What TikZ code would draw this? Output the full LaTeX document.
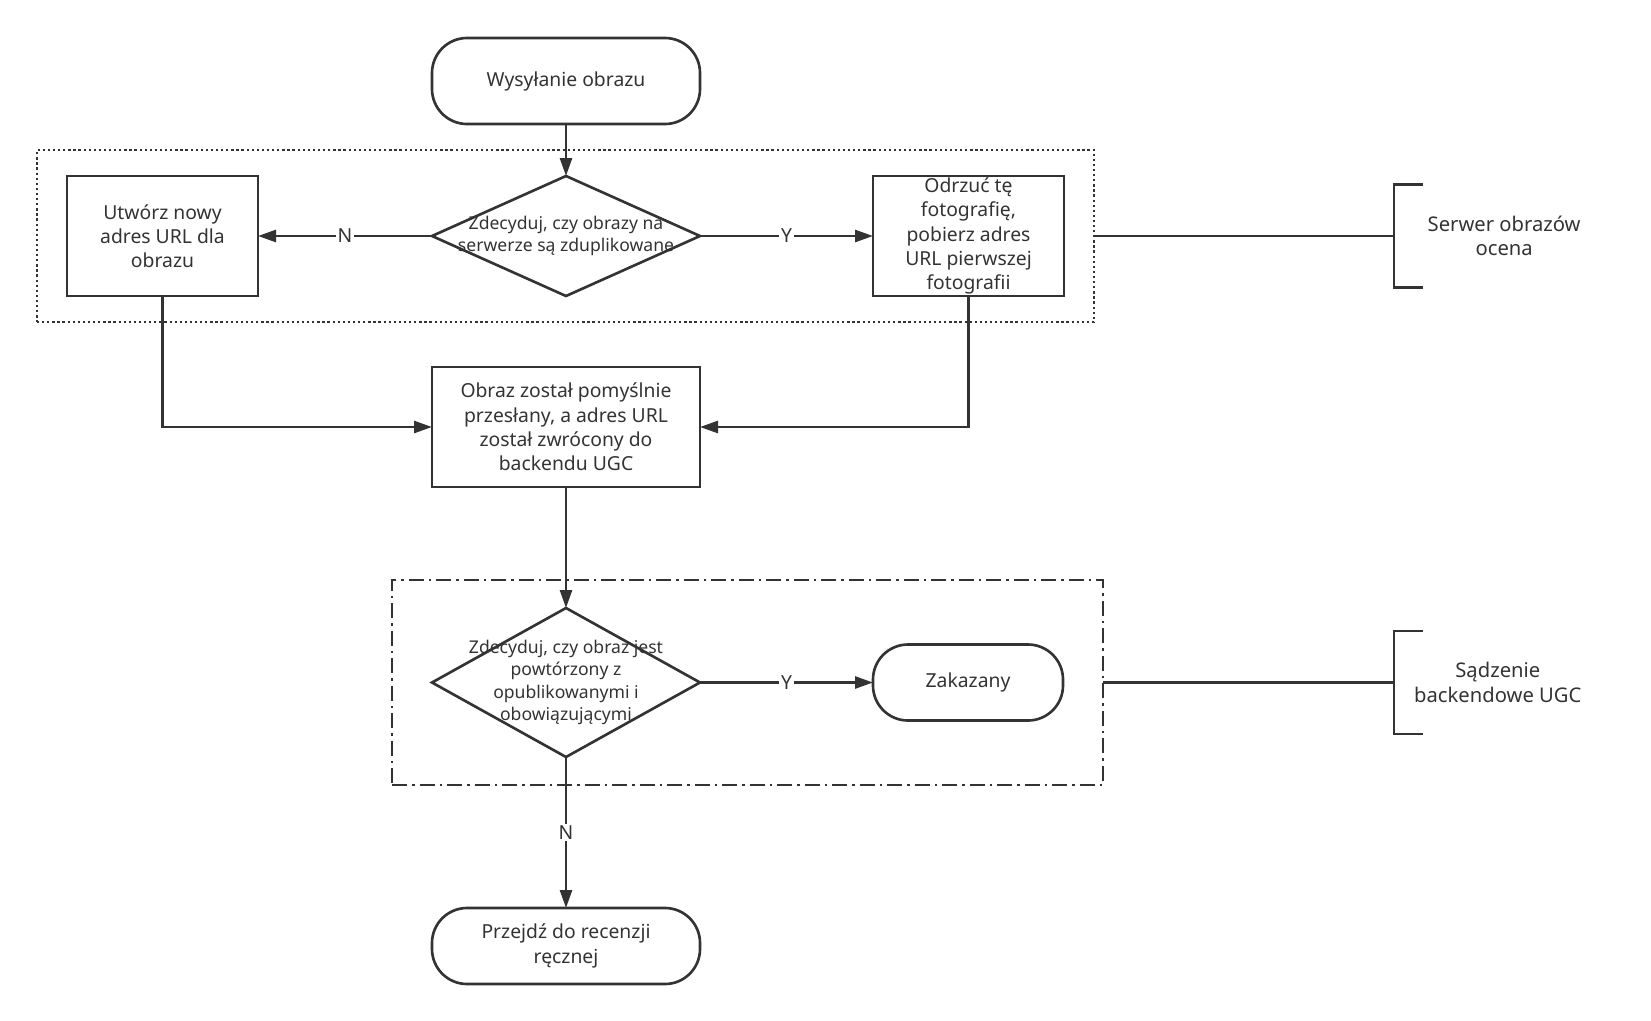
\documentclass[tikz,border=0pt]{standalone}
\usepackage{fontspec}
\setmainfont{Noto Sans}
\usepackage{xcolor}
\usetikzlibrary{shapes.geometric, arrows.meta, positioning, fit, calc}

\definecolor{ink}{HTML}{333333}

\begin{document}
\begin{tikzpicture}[
  node distance=1cm,
  every node/.style={font=\fontsize{11}{13.8}\selectfont, text=ink},
  terminal/.style={rectangle, rounded corners=0.7cm, draw=ink, line width=1.5pt, minimum width=5.36cm, minimum height=1.52cm, align=center, inner sep=0pt, outer sep=0pt},
  process/.style={rectangle, draw=ink, line width=1.5pt, minimum width=3.82cm, minimum height=2.4cm, align=center, inner sep=0pt, outer sep=0pt},
  decision/.style={diamond, draw=ink, line width=1.5pt, minimum width=5.36cm, minimum height=2.4cm, inner sep=0pt, outer sep=0pt},
  dectext/.style={align=center, font=\fontsize{10}{12.8}\selectfont},
  arrow/.style={-{Triangle[length=0.36cm, width=0.24cm]}, line width=1.5pt, draw=ink},
  link/.style={line width=1.5pt, draw=ink},
  answer/.style={midway, fill=white, inner sep=1pt},
  dotgroup/.style={rectangle, draw=ink, line width=1.3pt, dash pattern=on 1.3pt off 1.6pt, inner xsep=0.6cm, inner ysep=0.52cm, outer sep=0pt},
  dashdotgroup/.style={rectangle, draw=ink, line width=1.3pt, dash pattern=on 0.3cm off 0.1cm on 0.05cm off 0.1cm, inner xsep=0.8cm, inner ysep=0.56cm, outer sep=0pt},
  note/.style={align=center, font=\fontsize{11.5}{14}\selectfont},
]
\useasboundingbox (0,0) rectangle (33.02,-20.4);

% first check on the image server
\node[terminal, minimum height=1.72cm] (start) at (11.32,-1.62) {Wysyłanie obrazu};
\node[decision, below=1.04cm of start, label={[dectext]center:Zdecyduj, czy obrazy na\\serwerze są zduplikowane}] (dup1) {};
\node[process, left=3.48cm of dup1] (newurl) {Utwórz nowy\\adres URL dla\\obrazu};
\node[process, right=3.46cm of dup1] (reject) {Odrzuć tę\\fotografię,\\pobierz adres\\URL pierwszej\\fotografii};

% result returned to backend
\node[process, minimum width=5.36cm, below=1.42cm of dup1] (uploaded) {Obraz został pomyślnie\\przesłany, a adres URL\\został zwrócony do\\backendu UGC};

% second check in the UGC backend
\node[decision, minimum height=2.98cm, below=2.42cm of uploaded, label={[dectext]center:Zdecyduj, czy obraz jest\\powtórzony z\\opublikowanymi i\\obowiązującymi}] (dup2) {};
\node[terminal, minimum width=3.8cm, right=3.46cm of dup2] (banned) {Zakazany};
\node[terminal, below=3.02cm of dup2] (manual) {Przejdź do recenzji\\ręcznej};

% groups
\node[dotgroup, fit=(newurl)(reject)] (grp1) {};
\node[dashdotgroup, fit=(dup2)(banned)] (grp2) {};

% arrows
\draw[arrow] (start.south) -- (dup1.north);
\draw[arrow] (dup1.west) -- (newurl.east) node[answer] {N};
\draw[arrow] (dup1.east) -- (reject.west) node[answer] {Y};
\draw[arrow] (newurl.south) |- (uploaded.west);
\draw[arrow] (reject.south) |- (uploaded.east);
\draw[arrow] (uploaded.south) -- (dup2.north);
\draw[arrow] (dup2.east) -- (banned.west) node[answer] {Y};
\draw[arrow] (dup2.south) -- (manual.north) node[answer] {N};

% brackets
\coordinate (brx) at (27.88,0);
\coordinate (br1) at (grp1.east -| brx);
\coordinate (br2) at (grp2.east -| brx);
\draw[link] (grp1.east) -- (br1);
\draw[link] ($(br1)+(0.58,1.03)$) -- ++(-0.58,0) -- ++(0,-2.06) -- ++(0.58,0);
\draw[link] (grp2.east) -- (br2);
\draw[link] ($(br2)+(0.58,1.03)$) -- ++(-0.58,0) -- ++(0,-2.06) -- ++(0.58,0);
\node[note, right=0.55cm of br1] (lab1) {Serwer obrazów\\ocena};
\node[note, right=0.28cm of br2] (lab2) {Sądzenie\\backendowe UGC};

\end{tikzpicture}
\end{document}
